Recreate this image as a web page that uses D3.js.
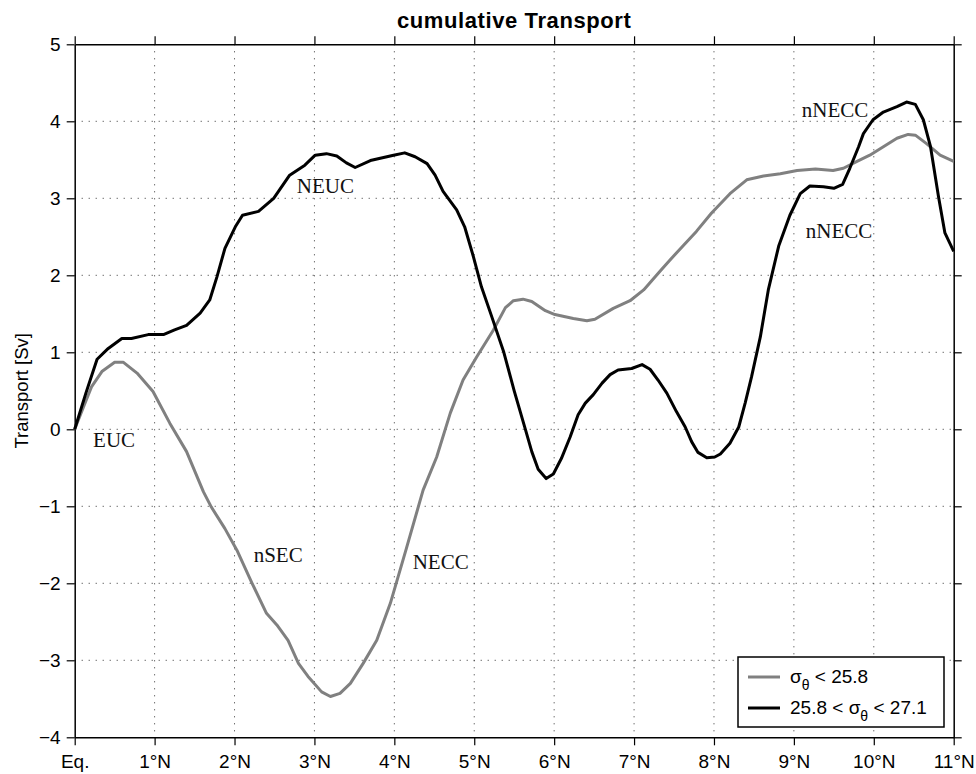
<!DOCTYPE html>
<html>
<head>
<meta charset="utf-8">
<script src="https://cdn.jsdelivr.net/npm/d3@7/dist/d3.min.js"></script>
<style>
  html, body { margin: 0; padding: 0; background: #fff; }
  svg { display: block; }
</style>
</head>
<body>
<svg id="chart" width="976" height="774"></svg>
<script>
// latitude ticks (degrees N) and their labels
const latTicks = [0, 1, 2, 3, 4, 5, 6, 7, 8, 9, 10, 11];
const latLabels = ['Eq.', '1°N', '2°N', '3°N', '4°N', '5°N', '6°N', '7°N', '8°N', '9°N', '10°N', '11°N'];
const svTicks = [-4, -3, -2, -1, 0, 1, 2, 3, 4, 5];

// sigma_theta < 25.8 (grey)
const upperLat = [0, 0.11, 0.21, 0.34, 0.50, 0.61, 0.78, 0.98, 1.19, 1.40, 1.61, 1.71, 1.88, 2.03, 2.22, 2.40, 2.53, 2.67, 2.80, 2.92, 3.09, 3.20, 3.32, 3.45, 3.61, 3.78, 3.95, 4.15, 4.36, 4.53, 4.70, 4.86, 5.03, 5.24, 5.39, 5.49, 5.61, 5.72, 5.89, 6.01, 6.24, 6.41, 6.51, 6.74, 6.95, 7.12, 7.33, 7.45, 7.62, 7.78, 7.97, 8.20, 8.41, 8.62, 8.83, 9.04, 9.27, 9.49, 9.62, 9.79, 9.95, 10.12, 10.29, 10.43, 10.52, 10.66, 10.83, 11.0];
const upperSv = [0, 0.29, 0.55, 0.75, 0.87, 0.87, 0.73, 0.49, 0.08, -0.29, -0.81, -1.01, -1.29, -1.57, -2.00, -2.39, -2.54, -2.74, -3.04, -3.21, -3.41, -3.47, -3.43, -3.30, -3.04, -2.74, -2.26, -1.55, -0.79, -0.36, 0.21, 0.64, 0.94, 1.29, 1.58, 1.67, 1.69, 1.66, 1.54, 1.49, 1.44, 1.41, 1.43, 1.57, 1.67, 1.81, 2.06, 2.20, 2.39, 2.57, 2.81, 3.06, 3.24, 3.29, 3.32, 3.36, 3.38, 3.36, 3.39, 3.48, 3.56, 3.67, 3.78, 3.83, 3.82, 3.71, 3.56, 3.48];

// 25.8 < sigma_theta < 27.1 (black)
const deepLat = [0, 0.14, 0.28, 0.42, 0.59, 0.71, 0.92, 1.11, 1.25, 1.40, 1.57, 1.69, 1.78, 1.88, 2.01, 2.10, 2.30, 2.49, 2.69, 2.88, 3.01, 3.15, 3.28, 3.40, 3.51, 3.70, 3.99, 4.13, 4.26, 4.41, 4.51, 4.61, 4.78, 4.88, 4.99, 5.09, 5.22, 5.37, 5.50, 5.64, 5.72, 5.80, 5.90, 5.99, 6.09, 6.20, 6.30, 6.39, 6.49, 6.60, 6.70, 6.80, 6.97, 7.10, 7.20, 7.30, 7.41, 7.53, 7.64, 7.72, 7.80, 7.91, 8.01, 8.08, 8.20, 8.31, 8.39, 8.47, 8.58, 8.68, 8.81, 8.95, 9.08, 9.20, 9.37, 9.50, 9.61, 9.70, 9.81, 9.87, 9.99, 10.12, 10.29, 10.41, 10.52, 10.62, 10.71, 10.81, 10.89, 11.0];
const deepSv = [0, 0.47, 0.91, 1.05, 1.18, 1.18, 1.23, 1.23, 1.29, 1.35, 1.51, 1.68, 1.98, 2.35, 2.63, 2.78, 2.83, 3.00, 3.30, 3.43, 3.56, 3.58, 3.55, 3.46, 3.40, 3.49, 3.56, 3.59, 3.54, 3.45, 3.30, 3.09, 2.85, 2.63, 2.24, 1.85, 1.46, 1.00, 0.50, 0.00, -0.29, -0.52, -0.64, -0.58, -0.38, -0.10, 0.19, 0.34, 0.45, 0.60, 0.71, 0.77, 0.79, 0.84, 0.78, 0.64, 0.47, 0.23, 0.03, -0.16, -0.30, -0.37, -0.36, -0.32, -0.18, 0.03, 0.34, 0.68, 1.20, 1.81, 2.38, 2.78, 3.06, 3.16, 3.15, 3.13, 3.18, 3.39, 3.67, 3.84, 4.02, 4.12, 4.19, 4.25, 4.22, 4.02, 3.67, 3.02, 2.55, 2.31];

// current names written inside the plot
const annotations = [
  { text: 'EUC', lat: 0.23, sv: -0.23 },
  { text: 'NEUC', lat: 2.78, sv: 3.07 },
  { text: 'nSEC', lat: 2.24, sv: -1.72 },
  { text: 'NECC', lat: 4.23, sv: -1.81 },
  { text: 'nNECC', lat: 9.1, sv: 4.05 },
  { text: 'nNECC', lat: 9.15, sv: 2.49 }
];

const svg = d3.select('#chart');
const plotLeft = 74.7, plotRight = 953.7, plotTop = 44.3, plotBottom = 737.3;

const x = d3.scaleLinear().domain([0, 11]).range([plotLeft, plotRight]);
const y = d3.scaleLinear().domain([-4, 5]).range([plotBottom, plotTop]);

const sansFont = '"Liberation Sans", Arial, Helvetica, sans-serif';
const serifFont = '"Liberation Serif", "Times New Roman", serif';

// dotted grid
const grid = svg.append('g')
  .attr('stroke', '#333')
  .attr('stroke-width', 1)
  .attr('stroke-dasharray', '1,6');
grid.selectAll('.gx').data(latTicks.slice(1, -1)).join('line')
  .attr('class', 'gx')
  .attr('x1', d => x(d)).attr('x2', d => x(d))
  .attr('y1', plotTop).attr('y2', plotBottom);
grid.selectAll('.gy').data(svTicks.slice(1, -1)).join('line')
  .attr('class', 'gy')
  .attr('x1', plotLeft).attr('x2', plotRight)
  .attr('y1', d => y(d)).attr('y2', d => y(d));

// axes on all four sides, ticks outward like the original
const fmt = i => latLabels[latTicks.indexOf(i)];
const yFmt = d => (d < 0 ? '\u2212' + Math.abs(d) : String(d));

const axB = svg.append('g').attr('transform', `translate(0,${plotBottom})`)
  .call(d3.axisBottom(x).tickValues(latTicks).tickFormat(fmt).tickSizeInner(8).tickSizeOuter(0).tickPadding(9));
const axT = svg.append('g').attr('transform', `translate(0,${plotTop})`)
  .call(d3.axisTop(x).tickValues(latTicks).tickFormat('').tickSizeInner(8).tickSizeOuter(0));
const axL = svg.append('g').attr('transform', `translate(${plotLeft},0)`)
  .call(d3.axisLeft(y).tickValues(svTicks).tickFormat(yFmt).tickSizeInner(8).tickSizeOuter(0).tickPadding(6));
const axR = svg.append('g').attr('transform', `translate(${plotRight},0)`)
  .call(d3.axisRight(y).tickValues(svTicks).tickFormat('').tickSizeInner(8).tickSizeOuter(0));

[axB, axT, axL, axR].forEach(a => {
  a.select('.domain').attr('stroke', '#000').attr('stroke-width', 1.5);
  a.selectAll('.tick line').attr('stroke', '#000').attr('stroke-width', 1.2);
  a.selectAll('text').attr('font-family', sansFont).attr('font-size', 19).attr('fill', '#000');
});

// lines
const line = d3.line().x(d => x(d[0])).y(d => y(d[1]));

svg.append('path')
  .datum(d3.zip(upperLat, upperSv))
  .attr('fill', 'none')
  .attr('stroke', '#808080')
  .attr('stroke-width', 3)
  .attr('stroke-linejoin', 'round')
  .attr('d', line);

svg.append('path')
  .datum(d3.zip(deepLat, deepSv))
  .attr('fill', 'none')
  .attr('stroke', '#000')
  .attr('stroke-width', 3)
  .attr('stroke-linejoin', 'round')
  .attr('d', line);

// labels for the currents
svg.append('g').selectAll('text').data(annotations).join('text')
  .attr('x', d => x(d.lat))
  .attr('y', d => y(d.sv))
  .attr('font-family', serifFont)
  .attr('font-size', 21)
  .attr('fill', '#111')
  .text(d => d.text);

// title and y label
svg.append('text')
  .attr('x', (plotLeft + plotRight) / 2).attr('y', 28)
  .attr('text-anchor', 'middle')
  .attr('font-family', sansFont).attr('font-weight', 'bold').attr('font-size', 22)
  .attr('letter-spacing', 0.6)
  .text('cumulative Transport');

svg.append('text')
  .attr('transform', `translate(28,${(plotTop + plotBottom) / 2}) rotate(-90)`)
  .attr('text-anchor', 'middle')
  .attr('font-family', sansFont).attr('font-size', 18.5)
  .text('Transport [Sv]');

// legend
const lg = svg.append('g').attr('transform', 'translate(738,657)');
lg.append('rect').attr('width', 206).attr('height', 70)
  .attr('fill', '#fff').attr('stroke', '#000').attr('stroke-width', 1.5);

const legendItems = [
  { color: '#808080', parts: [['σ', 0], ['θ', 1], [' < 25.8', 0]] },
  { color: '#000', parts: [['25.8 < σ', 0], ['θ', 1], [' < 27.1', 0]] }
];
legendItems.forEach((it, i) => {
  const cy = 20 + i * 31;
  lg.append('line').attr('x1', 10).attr('x2', 42).attr('y1', cy).attr('y2', cy)
    .attr('stroke', it.color).attr('stroke-width', 3);
  const t = lg.append('text').attr('x', 52).attr('y', cy + 6)
    .attr('font-family', sansFont).attr('font-size', 19);
  let shifted = 0;
  it.parts.forEach(p => {
    const dy = p[1] ? 7 : -shifted;
    shifted = p[1] ? 7 : 0;
    t.append('tspan')
      .attr('dy', dy || null)
      .attr('font-size', p[1] ? 14 : 19)
      .text(p[0]);
  });
});
</script>
</body>
</html>
